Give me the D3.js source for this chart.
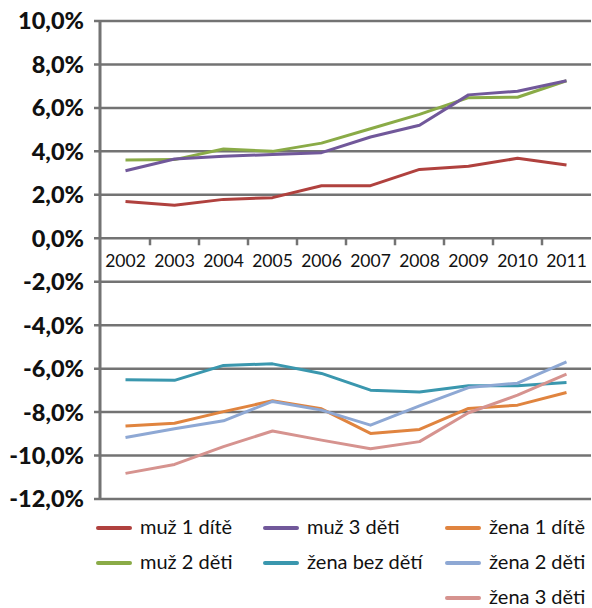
<!DOCTYPE html>
<html lang="cs">
<head>
  <meta charset="UTF-8">
  <title>Chart</title>
  <script src="https://d3js.org/d3.v7.min.js"></script>
  <style>
    body {
      margin: 0;
      background: #fff;
    }
    svg {
      display: block;
      font-family: 'Lato', sans-serif;
    }
  </style>
</head>
<body>
  <svg id="chart" width="592" height="608"></svg>
  <script>
    const years = ["2002", "2003", "2004", "2005", "2006", "2007", "2008", "2009", "2010", "2011"];
    const yTicks = [10, 8, 6, 4, 2, 0, -2, -4, -6, -8, -10, -12];

    const muz1 = [1.69, 1.52, 1.79, 1.87, 2.42, 2.42, 3.17, 3.31, 3.68, 3.37];
    const muz2 = [3.60, 3.62, 4.11, 4.00, 4.38, 5.04, 5.70, 6.47, 6.49, 7.25];
    const muz3 = [3.11, 3.65, 3.77, 3.86, 3.94, 4.66, 5.20, 6.60, 6.77, 7.25];
    const zenaBez = [-6.51, -6.54, -5.85, -5.78, -6.22, -6.99, -7.08, -6.79, -6.79, -6.64];
    const zena1 = [-8.64, -8.51, -7.98, -7.48, -7.85, -8.98, -8.80, -7.83, -7.68, -7.10];
    const zena2 = [-9.17, -8.77, -8.40, -7.51, -7.91, -8.60, -7.71, -6.87, -6.67, -5.69];
    const zena3 = [-10.82, -10.41, -9.59, -8.87, -9.29, -9.69, -9.36, -8.03, -7.22, -6.25];

    const series = [
      { name: "muž 1 dítě", values: muz1, color: "#b0413e" },
      { name: "muž 2 děti", values: muz2, color: "#8aab47" },
      { name: "muž 3 děti", values: muz3, color: "#71589a" },
      { name: "žena bez dětí", values: zenaBez, color: "#3a97ae" },
      { name: "žena 1 dítě", values: zena1, color: "#e0843f" },
      { name: "žena 2 děti", values: zena2, color: "#8ea8d4" },
      { name: "žena 3 děti", values: zena3, color: "#d6938f" }
    ];

    // legend slots (column-major, like the original)
    const legendPos = [
      [98, 528], [98, 563], [265, 528], [265, 563], [447, 528], [447, 563], [447, 598]
    ];

    const svg = d3.select("#chart");
    const grey = "#737373";

    const x = d3.scaleBand().domain(years).range([101, 591]);
    const y = d3.scaleLinear().domain([-12, 10]).range([499, 21]);

    // gridlines
    svg.append("g")
      .selectAll("line")
      .data(yTicks)
      .join("line")
      .attr("x1", 94)
      .attr("x2", 591)
      .attr("y1", d => y(d))
      .attr("y2", d => y(d))
      .attr("stroke", grey)
      .attr("stroke-width", 2.5);

    // y axis line
    svg.append("line")
      .attr("x1", 100).attr("x2", 100)
      .attr("y1", y(10) - 1).attr("y2", y(-12) + 1)
      .attr("stroke", grey)
      .attr("stroke-width", 3);

    // y labels
    svg.append("g")
      .selectAll("text")
      .data(yTicks)
      .join("text")
      .attr("x", 84)
      .attr("y", d => y(d))
      .attr("dy", "0.36em")
      .attr("text-anchor", "end")
      .attr("font-weight", 900)
      .attr("font-size", 23.5)
      .attr("fill", "#111")
      .text(d => d3.format(".1f")(d).replace(".", ",").replace("−", "-") + "%");

    // x axis labels on the 0% line
    const xAxis = d3.axisBottom(x).tickSize(0).tickFormat(d => d);
    const gx = svg.append("g")
      .attr("transform", `translate(0,${y(0)})`)
      .call(xAxis);
    gx.select(".domain").remove();
    gx.selectAll("text")
      .attr("font-size", 17.5)
      .attr("font-family", "Lato, sans-serif")
      .attr("fill", "#111")
      .attr("dy", "1.45em");

    // ticks at category boundaries
    svg.append("g")
      .selectAll("line")
      .data(years.slice(1))
      .join("line")
      .attr("x1", d => x(d))
      .attr("x2", d => x(d))
      .attr("y1", y(0))
      .attr("y2", y(0) + 7)
      .attr("stroke", grey)
      .attr("stroke-width", 2.5);

    // series lines
    const line = d3.line()
      .x((d, i) => x(years[i]) + x.bandwidth() / 2)
      .y(d => y(d));

    svg.append("g")
      .selectAll("path")
      .data(series)
      .join("path")
      .attr("d", d => line(d.values))
      .attr("fill", "none")
      .attr("stroke", d => d.color)
      .attr("stroke-width", 3)
      .attr("stroke-linejoin", "round");

    // legend
    const leg = svg.append("g")
      .selectAll("g")
      .data(series)
      .join("g")
      .attr("transform", (d, i) => `translate(${legendPos[i][0]},${legendPos[i][1]})`);

    leg.append("line")
      .attr("x1", 0).attr("x2", 32)
      .attr("y1", 0).attr("y2", 0)
      .attr("stroke", d => d.color)
      .attr("stroke-width", 4)
      .attr("stroke-linecap", "round");

    leg.append("text")
      .attr("x", 42)
      .attr("y", 0)
      .attr("dy", "0.3em")
      .attr("font-size", 20)
      .attr("fill", "#111")
      .text(d => d.name);
  </script>
</body>
</html>
